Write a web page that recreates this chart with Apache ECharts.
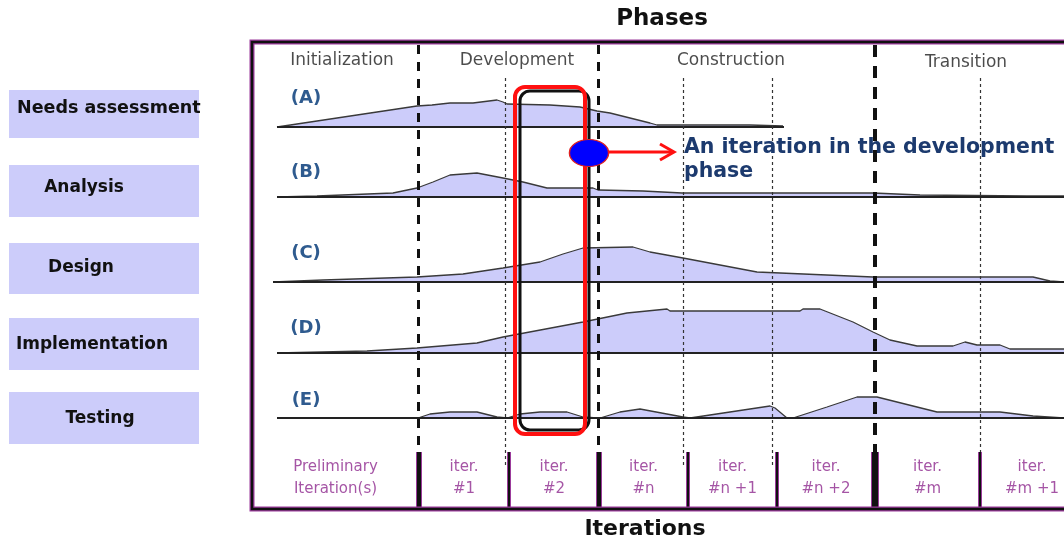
<!DOCTYPE html>
<html>
<head>
<meta charset="utf-8">
<script src="https://cdn.jsdelivr.net/npm/echarts@6/dist/echarts.min.js"></script>
<style>
  html, body { margin: 0; padding: 0; background: #fff; }
  #chart { width: 1064px; height: 541px; }
</style>
</head>
<body>
<div id="chart"></div>
<script>
// Activities (rows) and their effort curves over the project timeline
const activities = ['Needs assessment', 'Analysis', 'Design', 'Implementation', 'Testing']
const activityTags = ['(A)', '(B)', '(C)', '(D)', '(E)']

// [time, effort]
const effortA = [[25, 0], [165, 21], [180, 22], [198, 24], [221, 24], [245, 27], [251, 25], [255, 23],
  [298, 22], [328, 20], [345, 16], [358, 14], [398, 4], [405, 2], [498, 2], [531, 1]]
const effortB = [[25, 0], [65, 1], [141, 4], [165, 9], [181, 15], [198, 22], [225, 24], [251, 19],
  [271, 15], [295, 9], [341, 9], [346, 7], [391, 6], [430, 4], [621, 4], [668, 2], [775, 1], [812, 1]]
const effortC = [[21, 0], [71, 2], [165, 5], [211, 8], [251, 14], [288, 20], [311, 28], [331, 34],
  [381, 35], [398, 30], [431, 24], [505, 10], [621, 5], [781, 5], [798, 1], [812, 0]]
const effortD = [[25, 0], [115, 2], [165, 5], [225, 10], [251, 16], [331, 31], [375, 40], [415, 44],
  [418, 42], [548, 42], [551, 44], [568, 44], [601, 31], [621, 21], [638, 13], [665, 7], [701, 7],
  [713, 11], [725, 8], [748, 8], [758, 4], [812, 4]]
const effortE = [[25, 0], [166, 0], [178, 4], [198, 6], [225, 6], [245, 1], [255, 0], [268, 4],
  [288, 6], [315, 6], [331, 1], [345, 0], [348, 0], [368, 6], [388, 9], [431, 1], [438, 0],
  [518, 12], [523, 10], [535, 0], [541, 0], [575, 11], [605, 21], [625, 21], [685, 6], [748, 6],
  [781, 2], [812, 0]]
const efforts = [effortA, effortB, effortC, effortD, effortE]
const baselineStart = [25, 25, 21, 25, 25]
const baselineEnd = [532, 812, 812, 812, 812]

// Phases and iterations along the same timeline
const phaseNames = ['Initialization', 'Development', 'Construction', 'Transition']
const phaseLabelAt = [90, 265, 479, 714]
const phaseBounds = [166, 346, 623]
const iterBounds = [0, 167, 257, 347, 436, 525, 623, 728, 832]
const iterNames = ['Preliminary\nIteration(s)', 'iter.\n#1', 'iter.\n#2', 'iter.\n#n',
  'iter.\n#n +1', 'iter.\n#n +2', 'iter.\n#m', 'iter.\n#m +1']
const iterDotted = [253, 431, 520, 728]

const chart = echarts.init(document.getElementById('chart'))

const FRAME_L = 252, FRAME_T = 42, FRAME_W = 832, FRAME_H = 467
const VIEW_W = 812
const rowBase = [127, 197, 282, 353, 418]
const rowH = 50
const PURPLE = '#9b3b9b'

const grids = rowBase.map(b => ({ left: FRAME_L, right: 0, top: b - rowH, height: rowH }))
grids.push({ left: FRAME_L, right: 0, top: FRAME_T, height: FRAME_H })

const xAxes = grids.map((g, i) => ({ type: 'value', gridIndex: i, min: 0, max: VIEW_W, show: false }))
const yAxes = rowBase.map((b, i) => ({ type: 'value', gridIndex: i, min: 0, max: rowH, show: false }))
yAxes.push({ type: 'value', gridIndex: 5, min: 0, max: FRAME_H, inverse: true, show: false })

const series = []
efforts.forEach((d, i) => {
  series.push({
    type: 'line', xAxisIndex: i, yAxisIndex: i, data: d, symbol: 'none',
    lineStyle: { color: '#3a3a3a', width: 1.3 },
    areaStyle: { color: '#ccccfa', opacity: 1 },
    z: 2
  })
  series.push({
    type: 'line', xAxisIndex: i, yAxisIndex: i, symbol: 'none',
    data: [[baselineStart[i], 0], [baselineEnd[i], 0]],
    lineStyle: { color: '#222', width: 2 }, z: 3
  })
})

// divider lines in the overlay grid (y measured from frame top)
const lines = []
const DASH_TOP = 3, ROW_TOP = 410, ROW_BOT = FRAME_H
phaseBounds.forEach((x, k) => {
  const last = k === phaseBounds.length - 1
  lines.push([{ coord: [x, DASH_TOP], lineStyle: { color: '#111', width: last ? 4 : 3, type: last ? [12, 9] : [9, 8] } },
    { coord: [x, ROW_TOP] }])
})
iterDotted.forEach(x => {
  lines.push([{ coord: [x, 36], lineStyle: { color: '#333', width: 1.2, type: [3, 3] } }, { coord: [x, 425] }])
})
iterBounds.slice(1, -1).forEach(x => {
  const isPhase = phaseBounds.some(p => Math.abs(p - x) < 3)
  const w = x === 623 ? 6 : (isPhase ? 4 : 2)
  lines.push([{ coord: [x, ROW_TOP], lineStyle: { color: PURPLE, width: w + 2, type: 'solid' } }, { coord: [x, ROW_BOT] }])
  lines.push([{ coord: [x, ROW_TOP], lineStyle: { color: '#111', width: w, type: 'solid' } }, { coord: [x, ROW_BOT] }])
})

series.push({
  type: 'line', xAxisIndex: 5, yAxisIndex: 5, data: [], z: 5,
  markLine: { symbol: ['none', 'none'], silent: true, label: { show: false }, animation: false, data: lines }
})

// iteration labels
series.push({
  type: 'scatter', xAxisIndex: 5, yAxisIndex: 5, symbolSize: 1, itemStyle: { color: 'rgba(0,0,0,0)' }, z: 6,
  data: iterNames.map((n, i) => ({ name: n, value: [(iterBounds[i] + iterBounds[i + 1]) / 2, 436] })),
  label: {
    show: true, position: 'inside', formatter: p => p.name, color: '#8e2a8e',
    fontFamily: 'DejaVu Sans', fontSize: 15, lineHeight: 22, align: 'center', verticalAlign: 'middle'
  }
})
// phase labels
series.push({
  type: 'scatter', xAxisIndex: 5, yAxisIndex: 5, symbolSize: 1, itemStyle: { color: 'rgba(0,0,0,0)' }, z: 6,
  data: phaseNames.map((n, i) => ({ name: n, value: [phaseLabelAt[i], i === 3 ? 21 : 19] })),
  label: {
    show: true, position: 'inside', formatter: p => p.name, color: '#1e1e1e',
    fontFamily: 'DejaVu Sans', fontSize: 17, align: 'center', verticalAlign: 'middle'
  }
})

// static decorations
const boxTop = [90, 165, 243, 318, 392]
const boxH = [48, 52, 51, 52, 52]
const boxTextX = [17, 84, 81, 92, 100]
const boxTextY = [108, 188, 268, 345, 419]
const tagY = [98, 172, 253, 328, 400]

const graphics = []
activities.forEach((name, i) => {
  graphics.push({ type: 'rect', shape: { x: 9, y: boxTop[i], width: 190, height: boxH[i] }, style: { fill: '#ccccfa' }, z: 1 })
  graphics.push({
    type: 'text', x: boxTextX[i], y: boxTextY[i], z: 2,
    style: { text: name, fill: '#111', fontFamily: 'DejaVu Sans', fontWeight: 'bold', fontSize: i === 0 ? 17.5 : 17,
      align: i === 0 ? 'left' : 'center', verticalAlign: 'middle' }
  })
  graphics.push({
    type: 'text', x: 306, y: tagY[i], z: 2,
    style: { text: activityTags[i], fill: '#2f5b8f', fontFamily: 'DejaVu Sans', fontWeight: 'bold', fontSize: 18,
      align: 'center', verticalAlign: 'middle' }
  })
})
graphics.push(
  { type: 'text', x: 662, y: 19, style: { text: 'Phases', fill: '#111', fontFamily: 'DejaVu Sans', fontWeight: 'bold', fontSize: 23, align: 'center', verticalAlign: 'middle' } },
  { type: 'text', x: 645, y: 529, style: { text: 'Iterations', fill: '#111', fontFamily: 'DejaVu Sans', fontWeight: 'bold', fontSize: 22, align: 'center', verticalAlign: 'middle' } },
  // frame (right edge runs past the window)
  { type: 'rect', shape: { x: FRAME_L, y: FRAME_T, width: FRAME_W, height: FRAME_H }, style: { fill: null, stroke: PURPLE, lineWidth: 5 }, z: 10 },
  { type: 'rect', shape: { x: FRAME_L, y: FRAME_T, width: FRAME_W, height: FRAME_H }, style: { fill: null, stroke: '#111', lineWidth: 2.5 }, z: 11 },
  // highlighted iteration
  { type: 'rect', shape: { x: 520, y: 91, width: 69, height: 339, r: 10 }, style: { fill: null, stroke: '#111', lineWidth: 3 }, z: 20 },
  { type: 'rect', shape: { x: 515, y: 87, width: 70, height: 347, r: 10 }, style: { fill: null, stroke: '#ff1010', lineWidth: 4 }, z: 21 },
  { type: 'circle', x: 589, y: 153, scaleX: 1.45, shape: { cx: 0, cy: 0, r: 13.5 }, style: { fill: '#0000ff', stroke: '#e02020', lineWidth: 1 }, z: 22 },
  { type: 'line', shape: { x1: 608, y1: 152, x2: 673, y2: 152 }, style: { stroke: '#ff1010', lineWidth: 3 }, z: 22 },
  { type: 'polyline', shape: { points: [[660, 144], [674, 152], [660, 160]] }, style: { fill: null, stroke: '#ff1010', lineWidth: 3 }, z: 22 },
  { type: 'text', x: 684, y: 136, z: 23,
    style: { text: 'An iteration in the development\nphase', fill: '#1c3a6e', fontFamily: 'DejaVu Sans', fontWeight: 'bold',
      fontSize: 20.5, lineHeight: 24, align: 'left', verticalAlign: 'top' } }
)

const option = {
  animation: false,
  grid: grids,
  xAxis: xAxes,
  yAxis: yAxes,
  series: series,
  graphic: graphics
}
option && chart.setOption(option)
</script>
</body>
</html>
